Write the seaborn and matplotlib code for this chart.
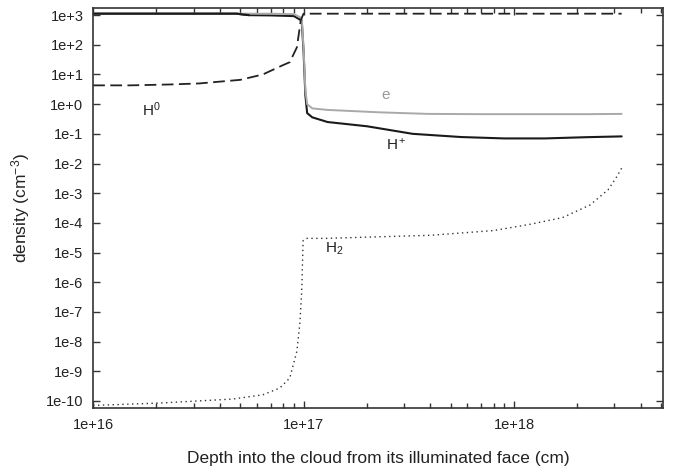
import matplotlib
matplotlib.use("Agg")
import matplotlib.pyplot as plt
import matplotlib.ticker as mticker
import seaborn as sns
import pandas as pd

# ---- data ----
h0_depth = [1e16, 1.5e16, 2.3e16, 3.2e16, 5e16, 6.4e16, 7.9e16, 8.6e16, 9.3e16, 9.7e16, 1.0e17,
            1.05e17, 2e17, 5e17, 1e18, 2e18, 3.25e18]
h0_dens = [4.3, 4.3, 4.6, 5.0, 6.6, 10, 20, 26, 83, 680, 1.12e3,
           1.12e3, 1.12e3, 1.12e3, 1.12e3, 1.12e3, 1.12e3]

hp_depth = [1e16, 3e16, 4.8e16, 5.5e16, 7e16, 9e16, 9.8e16, 1.0e17, 1.02e17, 1.04e17, 1.1e17, 1.3e17,
            2e17, 3.3e17, 5.6e17, 9e17, 1.4e18, 2.2e18, 3.25e18]
hp_dens = [1.12e3, 1.12e3, 1.12e3, 1.0e3, 9.8e2, 9.3e2, 6.5e2, 60, 2.0, 0.5, 0.36, 0.25,
           0.18, 0.10, 0.078, 0.07, 0.07, 0.077, 0.082]

e_depth = [1e16, 3e16, 5e16, 7e16, 9e16, 9.8e16, 1.0e17, 1.02e17, 1.04e17, 1.1e17, 1.3e17, 2.3e17,
           3.9e17, 7e17, 1.4e18, 2.2e18, 3.25e18]
e_dens = [1.12e3, 1.12e3, 1.12e3, 1.12e3, 1.08e3, 8e2, 80, 3.0, 1.0, 0.72, 0.64, 0.53,
          0.47, 0.46, 0.46, 0.46, 0.47]

h2_depth = [1e16, 2.1e16, 4.6e16, 6.4e16, 7.7e16, 8.6e16, 9.3e16, 9.6e16, 9.8e16, 9.95e16, 1.03e17,
            1.3e17, 2e17, 4e17, 8e17, 1.2e18, 1.7e18, 2.3e18, 2.8e18, 3.05e18, 3.25e18]
h2_dens = [7e-11, 8.5e-11, 1.15e-10, 1.6e-10, 2.7e-10, 5.9e-10, 4.8e-9, 4e-8, 5e-7, 2.5e-5, 3e-5,
           3e-5, 3.3e-5, 3.8e-5, 5.5e-5, 9e-5, 1.5e-4, 4e-4, 1.3e-3, 3.2e-3, 7e-3]

y_ticks = [1e-10, 1e-9, 1e-8, 1e-7, 1e-6, 1e-5, 1e-4, 1e-3, 1e-2, 1e-1, 1e0, 1e1, 1e2, 1e3]
y_tick_labels = ["1e-10", "1e-9", "1e-8", "1e-7", "1e-6", "1e-5", "1e-4", "1e-3",
                 "1e-2", "1e-1", "1e+0", "1e+1", "1e+2", "1e+3"]
x_ticks = [1e16, 1e17, 1e18]
x_tick_labels = ["1e+16", "1e+17", "1e+18"]

# ---- style ----
sns.set_style("ticks")
plt.rcParams["font.family"] = ["Liberation Sans", "DejaVu Sans"]
plt.rcParams["mathtext.fontset"] = "custom"
plt.rcParams["mathtext.rm"] = "Liberation Sans"
plt.rcParams["mathtext.it"] = "Liberation Sans"
plt.rcParams["mathtext.default"] = "regular"

fig = plt.figure(figsize=(6.75, 4.72), dpi=100, facecolor="white")
ax = fig.add_axes([0.138, 0.1356, 0.844, 0.8474])
ax.set_facecolor("white")

sns.lineplot(x=hp_depth, y=hp_dens, ax=ax, color="#1a1a1a", lw=1.5, estimator=None, sort=False)
sns.lineplot(x=e_depth, y=e_dens, ax=ax, color="#a9a9a9", lw=1.4, estimator=None, sort=False)
sns.lineplot(x=hp_depth[:4], y=hp_dens[:4], ax=ax, color="#1a1a1a", lw=1.5, estimator=None, sort=False)
sns.lineplot(x=h0_depth, y=h0_dens, ax=ax, color="#222222", lw=1.3, estimator=None, sort=False,
             linestyle=(0, (6.5, 3)))
sns.lineplot(x=h2_depth, y=h2_dens, ax=ax, color="#333333", lw=1.0, estimator=None, sort=False,
             linestyle=(0, (1, 2.5)))

ax.set_xscale("log")
ax.set_yscale("log")
ax.set_xlim(1e16, 5.1e18)
ax.set_ylim(10 ** -10.24, 10 ** 3.24)

ax.yaxis.set_major_locator(mticker.FixedLocator(y_ticks))
ax.yaxis.set_major_formatter(mticker.FixedFormatter(y_tick_labels))
ax.yaxis.set_minor_locator(mticker.NullLocator())
ax.xaxis.set_major_locator(mticker.FixedLocator(x_ticks))
ax.xaxis.set_major_formatter(mticker.FixedFormatter(x_tick_labels))
ax.xaxis.set_minor_locator(mticker.LogLocator(base=10, subs=[2, 3, 4, 5, 6, 7, 8, 9], numticks=20))
ax.xaxis.set_minor_formatter(mticker.NullFormatter())

ax.tick_params(which="both", direction="in", top=True, right=True, color="#333333",
               labelsize=10.5, labelcolor="#222222")
ax.tick_params(which="major", length=5, width=1.0, pad=7)
ax.tick_params(which="minor", length=3.5, width=1.0)
for s in ax.spines.values():
    s.set_color("#333333")
    s.set_linewidth(1.2)
    s.set_visible(True)

ax.set_xlabel("Depth into the cloud from its illuminated face (cm)", fontsize=12.5,
              color="#222222", labelpad=14)
ax.set_ylabel("density (cm$^{-3}$)", fontsize=12.5, color="#222222", labelpad=10)

ax.text(1.9e16, 0.65, "H$^0$", fontsize=11, color="#222222", ha="center", va="center")
ax.text(2.45e17, 2.0, "e", fontsize=11, color="#999999", ha="center", va="center")
ax.text(2.75e17, 0.045, "H$^+$", fontsize=11, color="#222222", ha="center", va="center")
ax.text(1.4e17, 1.3e-5, "H$_2$", fontsize=11, color="#222222", ha="center", va="center")

fig.savefig("out.png", dpi=100, facecolor="white")
